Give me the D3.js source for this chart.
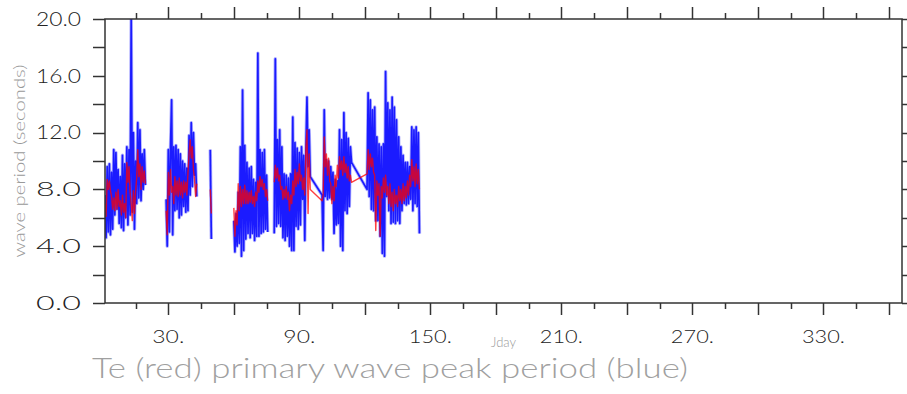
<!DOCTYPE html>
<html>
<head>
<meta charset="utf-8">
<script src="https://cdn.jsdelivr.net/npm/d3@7"></script>
<style>
  html, body { margin: 0; padding: 0; background: #fff; }
  svg { display: block; }
  text { font-family: Lato, "DejaVu Sans", sans-serif; font-weight: 300; }
</style>
</head>
<body>
<svg id="chart" width="907" height="394"></svg>
<script>
// ---- data (Jday, regular 0.5-day steps within each segment) ----
const STEP = 0.5;
const segStart = [1, 29, 49.2, 60, 100.4, 121];
const segJoin  = [false, false, false, false, true, true]; // joined to previous segment

const bluePeak1 = [7.6,4.6,9.6,5.0,9.8,4.8,9.2,5.2,10.8,6.2,
  10.6,6.6,9.4,5.6,8.9,5.3,10.4,5.1,9.8,6.0,
  11.0,5.5,10.8,6.2,20.0,6.4,12.0,5.2,10.0,7.0,
  12.7,7.4,12.2,7.2,10.5,8.0,10.8,8.3];
const bluePeak2 = [7.3,4.0,10.8,5.0,11.0,14.3,4.8,11.0,6.5,11.1,
  6.6,10.8,6.0,10.5,6.2,10.0,6.8,9.8,6.4,9.5,
  6.5,11.8,7.6,12.7,8.2,12.0,9.0,9.8,7.5];
const bluePeak3 = [10.8,4.5];
const bluePeak4 = [5.8,3.6,6.3,4.0,7.8,4.2,11.0,3.3,15.0,3.7,
  11.1,4.5,9.9,4.9,9.5,4.6,9.6,4.9,8.7,4.4,
  8.5,4.7,17.6,4.7,10.8,4.9,10.6,5.0,10.8,5.2,
  9.0,5.0,null,null,null,null,null,4.9,17.2,5.4,
  11.5,5.6,12.2,5.4,11.0,4.6,9.1,4.4,9.0,4.7,
  8.8,4.0,9.1,3.7,13.1,3.7,11.3,5.4,10.9,5.2,
  10.6,5.5,11.0,7.3,10.4,4.4,10.8,14.5,9.6,12.2,
  8.9];
const bluePeak5 = [7.6,3.7,13.6,7.5,10.1,7.3,10.0,7.4,9.6,7.3,
  9.2,4.9,8.7,5.5,8.6,5.6,12.2,4.0,11.5,3.7,
  13.4,6.5,12.0,6.3,11.6,6.8,11.0,9.9];
const bluePeak6 = [8.0,14.8,7.5,14.3,6.6,13.6,6.5,13.8,5.8,11.7,
  5.8,11.2,4.7,11.0,3.5,11.2,3.3,16.3,7.5,14.1,
  6.5,13.6,5.6,14.5,5.7,13.8,5.6,12.9,5.8,11.7,
  5.6,11.0,6.5,10.4,7.0,9.9,6.9,9.9,7.0,9.6,
  7.3,12.4,6.5,12.2,7.0,12.4,6.8,12.0,4.9];

const redTe1 = [7.0,6.1,8.7,8.0,8.6,7.9,7.5,6.6,7.4,6.5,
  7.8,6.6,8.0,6.8,7.2,6.2,7.6,6.4,7.0,6.0,
  9.9,8.5,9.6,7.8,7.0,5.8,7.9,6.3,7.8,8.8,
  10.8,8.9,9.8,8.0,9.6,8.5,9.3,8.4];
const redTe2 = [6.5,4.8,9.2,7.6,9.4,7.8,8.2,7.0,8.9,7.6,
  8.6,7.5,8.8,7.6,8.5,7.4,8.6,7.8,8.5,7.6,
  9.2,10.5,11.5,10.2,11.0,9.4,8.7,7.5,8.4];
const redTe3 = [8.0,6.3];
const redTe4 = [6.7,4.7,6.5,5.5,8.4,6.5,8.2,6.8,8.0,7.0,
  8.3,7.0,7.9,7.0,7.8,7.1,7.9,7.0,7.5,6.8,
  7.8,7.2,8.6,7.8,8.9,8.2,8.7,8.0,8.4,7.5,
  8.0,7.2,null,null,null,null,null,8.5,9.7,8.8,
  9.5,8.6,9.0,8.0,8.2,7.3,8.0,7.4,8.2,7.3,
  7.8,6.5,7.6,7.0,8.6,7.6,9.4,8.2,9.2,8.4,
  9.8,8.6,9.0,8.0,8.8,7.6,10.8,12.2,6.3,10.5,
  8.0];
const redTe5 = [7.2,7.6,11.7,9.6,10.5,9.0,10.2,8.6,8.4,7.0,
  8.2,7.2,9.0,8.2,9.7,8.8,10.3,9.4,10.0,9.0,
  10.3,9.2,9.8,8.8,9.6,8.6,9.0,8.5];
const redTe6 = [9.1,10.8,9.4,10.5,9.6,10.2,9.2,9.0,5.1,8.6,
  7.6,8.4,4.7,8.2,7.4,8.8,7.8,9.0,7.6,8.2,
  7.0,8.4,6.8,7.8,6.5,8.0,7.0,7.6,6.8,8.2,
  7.2,8.0,7.0,8.4,7.2,8.2,7.4,8.6,7.6,9.0,
  8.2,10.1,8.6,9.6,8.2,9.8,8.4,9.4,8.0];

const blueSegs = [bluePeak1, bluePeak2, bluePeak3, bluePeak4, bluePeak5, bluePeak6];
const redSegs  = [redTe1, redTe2, redTe3, redTe4, redTe5, redTe6];

const xDomain = [1, 366];
const yDomain = [0, 20];
const xTicks = d3.range(15, 366, 15);
const xMajor = [30, 60, 90, 120, 150, 180, 210, 240, 270, 300, 330, 360];
const xLabels = [30, 90, 150, 210, 270, 330];
const yTicks = d3.range(0, 20.01, 2);
const yLabels = [0, 4, 8, 12, 16, 20];

const xTitle = "Te (red) primary wave peak period (blue)";
const yTitle = "wave period (seconds)";
const xUnit = "Jday";

// ---- layout ----
const L = 105, R = 902, T = 19, B = 303;
const svg = d3.select("#chart");
const x = d3.scaleLinear().domain(xDomain).range([L, R]);
const y = d3.scaleLinear().domain(yDomain).range([B, T]);

function buildGroups(segs) {
  const groups = [];
  segs.forEach((vals, k) => {
    const pts = vals.map((v, i) => ({ d: segStart[k] + i * STEP, v }));
    if (segJoin[k] && groups.length) groups[groups.length - 1].push(...pts);
    else groups.push(pts);
  });
  return groups;
}

svg.append("defs").append("clipPath").attr("id", "clip")
  .append("rect").attr("x", L).attr("y", T).attr("width", R - L).attr("height", B - T);

const line = d3.line().defined(p => p.v !== null).x(p => x(p.d)).y(p => y(p.v));
const plot = svg.append("g").attr("clip-path", "url(#clip)");

// pale halo, then core
plot.selectAll("path.bluehalo").data(buildGroups(blueSegs)).enter().append("path")
  .attr("class", "bluehalo").attr("d", line)
  .attr("fill", "none").attr("stroke", "#0000ff").attr("stroke-width", 3.4)
  .attr("stroke-opacity", 0.3).attr("stroke-linejoin", "round");
plot.selectAll("path.blue").data(buildGroups(blueSegs)).enter().append("path")
  .attr("class", "blue").attr("d", line)
  .attr("fill", "none").attr("stroke", "#0000ff").attr("stroke-width", 1.7)
  .attr("stroke-opacity", 0.85).attr("stroke-linejoin", "round");

plot.selectAll("path.red").data(buildGroups(redSegs)).enter().append("path")
  .attr("class", "red").attr("d", line)
  .attr("fill", "none").attr("stroke", "#ff0000").attr("stroke-width", 1.4)
  .attr("stroke-opacity", 0.75).attr("stroke-linejoin", "round");

// ---- frame and ticks ----
const axisColor = "#333";
svg.append("rect").attr("x", L).attr("y", T).attr("width", R - L).attr("height", B - T)
  .attr("fill", "none").attr("stroke", axisColor).attr("stroke-width", 1.5);

const tk = svg.append("g").attr("stroke", axisColor).attr("stroke-width", 1.5);
xTicks.forEach(t => {
  const len = xMajor.includes(t) ? 12 : 6;
  const xx = Math.round(x(t)) + 0.5;
  tk.append("line").attr("x1", xx).attr("x2", xx).attr("y1", B).attr("y2", B + len);
  tk.append("line").attr("x1", xx).attr("x2", xx).attr("y1", T).attr("y2", T - len);
});
yTicks.forEach(t => {
  const yy = Math.round(y(t)) + 0.5;
  tk.append("line").attr("x1", L - 12).attr("x2", L).attr("y1", yy).attr("y2", yy);
  tk.append("line").attr("x1", R).attr("x2", R + 12).attr("y1", yy).attr("y2", yy);
});

// ---- tick labels ----
svg.append("g").selectAll("text").data(yLabels).enter().append("text")
  .attr("x", 81).attr("y", d => y(d) + 6.8)
  .attr("text-anchor", "end").attr("font-size", 19).attr("fill", "#222")
  .attr("textLength", 45).attr("lengthAdjust", "spacingAndGlyphs")
  .text(d => d.toFixed(1));

svg.append("g").selectAll("text").data(xLabels).enter().append("text")
  .attr("x", d => x(d)).attr("y", 343)
  .attr("text-anchor", "middle").attr("font-size", 17).attr("fill", "#222")
  .attr("textLength", d => (String(d).length === 2 ? 32 : 43)).attr("lengthAdjust", "spacingAndGlyphs")
  .text(d => d + ".");

// ---- titles ----
svg.append("text")
  .attr("transform", "translate(25,161) rotate(-90)")
  .attr("text-anchor", "middle").attr("font-size", 15).attr("fill", "#999")
  .attr("textLength", 193).attr("lengthAdjust", "spacingAndGlyphs")
  .text(yTitle);

svg.append("text")
  .attr("x", 92).attr("y", 378)
  .attr("font-size", 27).attr("fill", "#a0a0a0")
  .attr("textLength", 596).attr("lengthAdjust", "spacingAndGlyphs")
  .text(xTitle);

svg.append("text")
  .attr("x", 491).attr("y", 347)
  .attr("font-size", 13).attr("fill", "#999")
  .attr("textLength", 25).attr("lengthAdjust", "spacingAndGlyphs")
  .text(xUnit);
</script>
</body>
</html>
